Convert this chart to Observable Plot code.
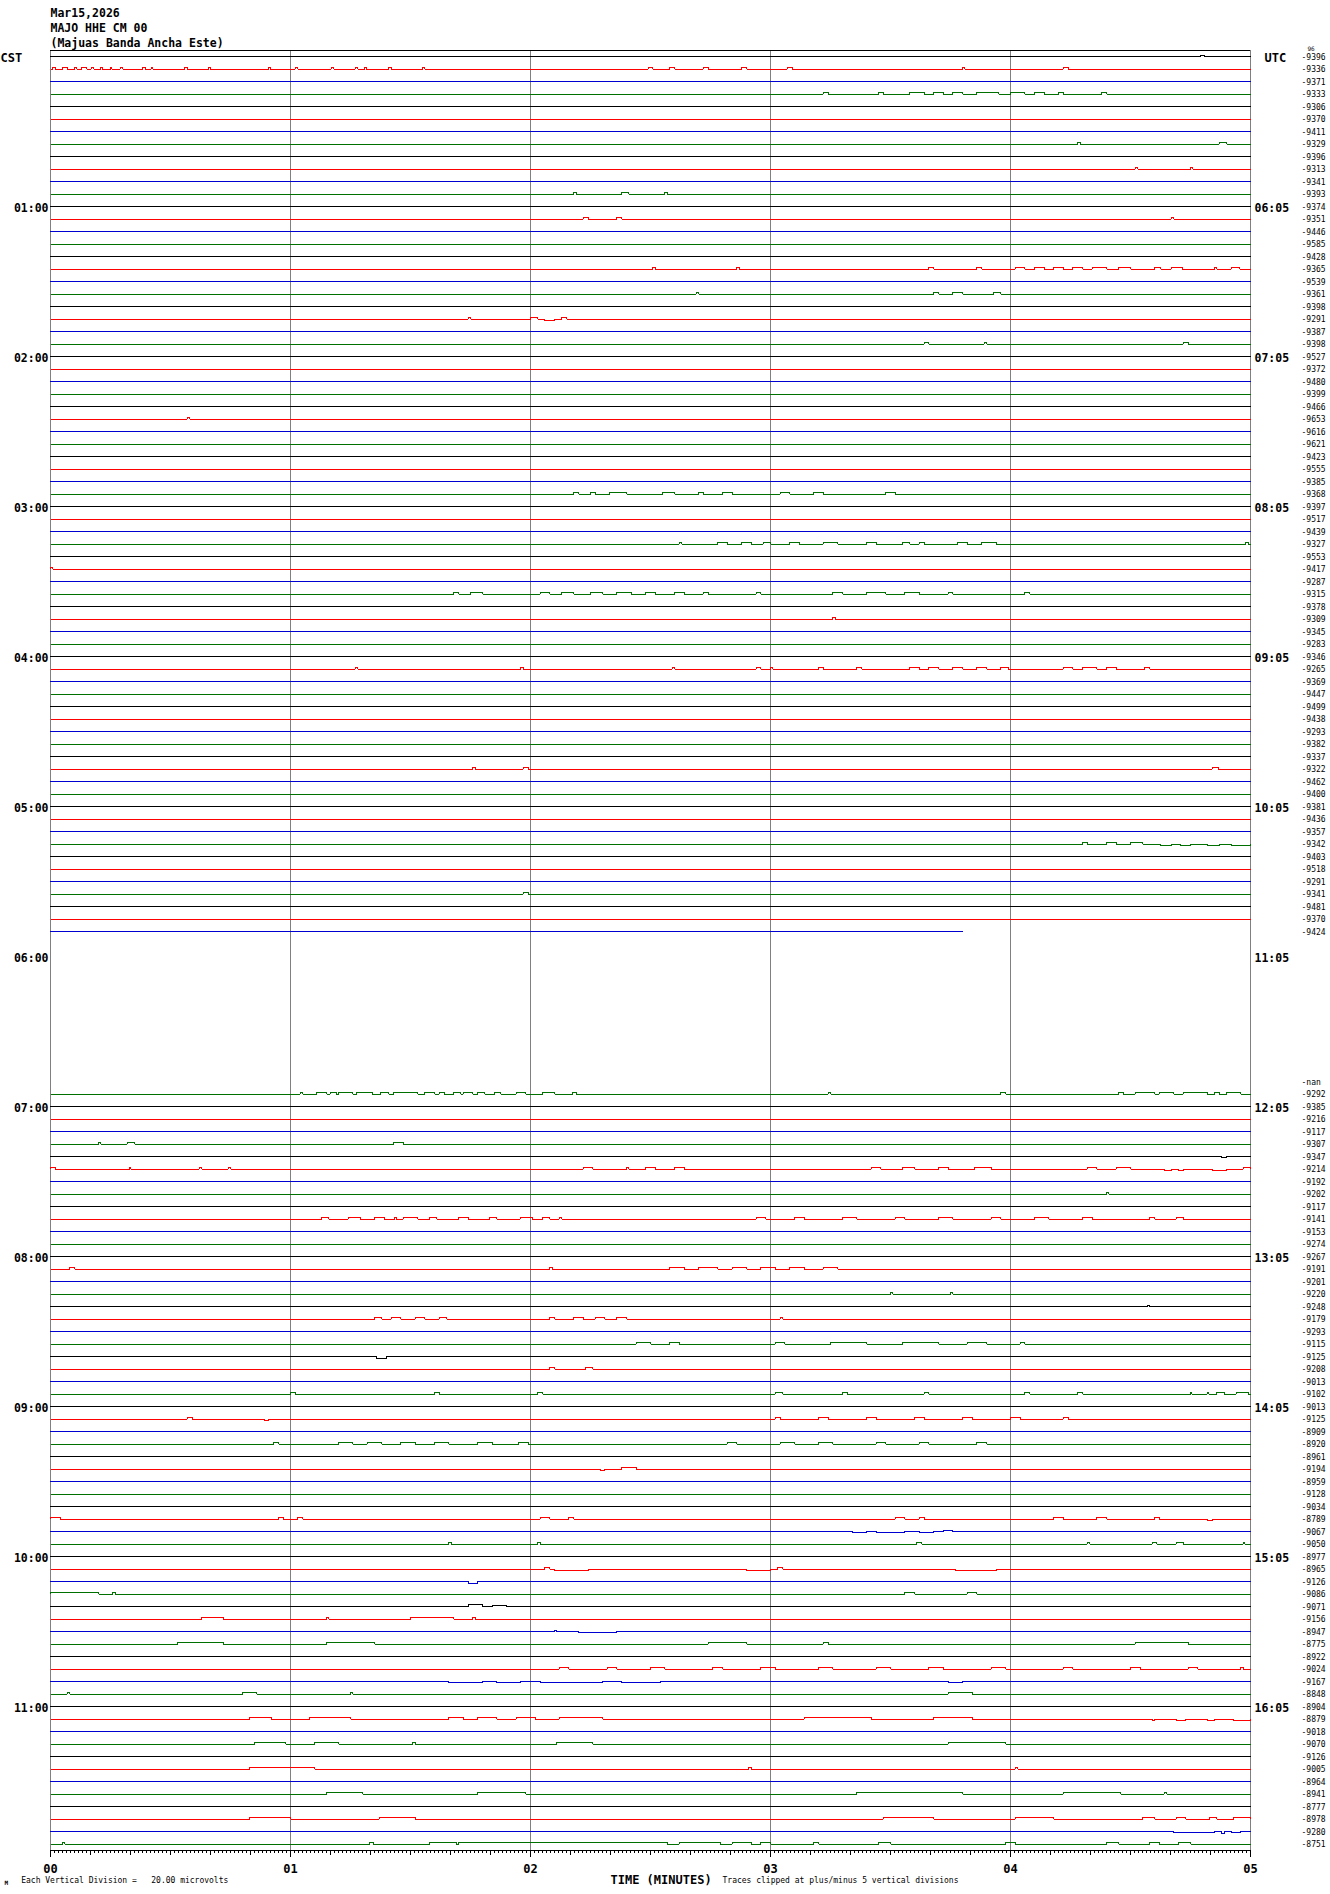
<!DOCTYPE html>
<html><head><meta charset="utf-8">
<script src="https://cdn.jsdelivr.net/npm/d3@7"></script>
<script src="https://cdn.jsdelivr.net/npm/@observablehq/plot@0.6"></script>
<style>
html,body{margin:0;padding:0;background:#fff;}
svg text{white-space:pre;}
</style></head><body><div id="chart"></div>
<script>
// ---------- DATA ----------
const titleLines = ["Mar15,2026", "MAJO HHE CM 00", "(Majuas Banda Ancha Este)"];
const cstHours = ["01:00","02:00","03:00","04:00","05:00","06:00","07:00","08:00","09:00","10:00","11:00"];
const utcHours = ["06:05","07:05","08:05","09:05","10:05","11:05","12:05","13:05","14:05","15:05","16:05"];
const minuteLabels = ["00","01","02","03","04","05"];
const traceColors = ["#000000", "#ff0000", "#0000d0", "#007000"];
// one 5-minute trace per row, value = trace mean (counts); null = no data, NaN = "-nan"
const traceMeans = [
-9396,-9336,-9371,-9333,-9306,-9370,-9411,-9329,-9396,-9313,-9341,-9393,
-9374,-9351,-9446,-9585,-9428,-9365,-9539,-9361,-9398,-9291,-9387,-9398,
-9527,-9372,-9480,-9399,-9466,-9653,-9616,-9621,-9423,-9555,-9385,-9368,
-9397,-9517,-9439,-9327,-9553,-9417,-9287,-9315,-9378,-9309,-9345,-9283,
-9346,-9265,-9369,-9447,-9499,-9438,-9293,-9382,-9337,-9322,-9462,-9400,
-9381,-9436,-9357,-9342,-9403,-9518,-9291,-9341,-9481,-9370,-9424,null,
null,null,null,null,null,null,null,null,null,null,NaN,-9292,
-9385,-9216,-9117,-9307,-9347,-9214,-9192,-9202,-9117,-9141,-9153,-9274,
-9267,-9191,-9201,-9220,-9248,-9179,-9293,-9115,-9125,-9208,-9013,-9102,
-9013,-9125,-8909,-8920,-8961,-9194,-8959,-9128,-9034,-8789,-9067,-9050,
-8977,-8965,-9126,-9086,-9071,-9156,-8947,-8775,-8922,-9024,-9167,-8848,
-8904,-8879,-9018,-9070,-9126,-9005,-8964,-8941,-8777,-8978,-9280,-8751
];
const traceEndMinute = {70: 3.80};
// [trace, start minute, end minute, deviation in microvolts]
const wiggleSegments = [
[0,4.79,4.81,2],
[1,0.01,0.02,2],[1,0.05,0.07,2],[1,0.10,0.11,2],[1,0.13,0.15,2],[1,0.17,0.18,2],[1,0.21,0.215,2],[1,0.25,0.255,2],[1,0.29,0.30,2],[1,0.385,0.395,2],[1,0.42,0.425,2],[1,0.56,0.57,2],[1,0.66,0.665,2],[1,0.91,0.915,2],[1,1.02,1.03,2],[1,1.17,1.18,2],[1,1.27,1.28,2],[1,1.31,1.315,2],[1,1.41,1.42,2],[1,1.55,1.56,2],[1,2.49,2.51,2],[1,2.58,2.60,2],[1,2.72,2.74,2],[1,2.88,2.90,2],[1,3.07,3.09,2],[1,3.80,3.81,2],[1,4.22,4.24,2],
[3,3.22,3.24,2],[3,3.45,3.47,2],[3,3.58,3.64,2],[3,3.68,3.72,2],[3,3.76,3.80,2],[3,3.86,3.95,2],[3,4.00,4.06,2],[3,4.10,4.14,2],[3,4.20,4.22,2],[3,4.38,4.40,2],
[7,4.28,4.29,2],[7,4.87,4.90,2],
[9,4.52,4.53,2],[9,4.75,4.76,2],
[11,2.18,2.19,2],[11,2.38,2.41,2],[11,2.56,2.57,2],
[13,2.22,2.24,2],[13,2.36,2.38,2],[13,4.67,4.68,2],
[17,2.51,2.52,2],[17,2.86,2.87,2],[17,3.66,3.68,2],[17,3.86,3.88,2],[17,4.02,4.06,2],[17,4.10,4.14,2],[17,4.18,4.22,2],[17,4.26,4.30,2],[17,4.34,4.40,2],[17,4.45,4.50,2],[17,4.60,4.625,2],[17,4.67,4.715,2],[17,4.85,4.86,2],[17,4.92,4.955,2],
[19,2.69,2.70,2],[19,3.68,3.70,2],[19,3.76,3.80,2],[19,3.93,3.96,2],
[21,1.74,1.75,2],[21,2.00,2.03,2],[21,2.06,2.10,-2],[21,2.13,2.15,2],
[23,3.64,3.66,2],[23,3.89,3.90,2],[23,4.72,4.74,2],
[29,0.57,0.58,2],
[35,2.18,2.20,2],[35,2.25,2.27,2],[35,2.33,2.40,2],[35,2.55,2.60,2],[35,2.70,2.72,2],[35,2.80,2.84,2],[35,3.04,3.08,2],[35,3.18,3.22,2],[35,3.48,3.52,2],
[39,2.62,2.63,2],[39,2.78,2.82,2],[39,2.88,2.92,2],[39,2.97,3.00,2],[39,3.08,3.12,2],[39,3.22,3.28,2],[39,3.40,3.44,2],[39,3.55,3.58,2],[39,3.62,3.64,2],[39,3.78,3.82,2],[39,3.88,3.94,2],[39,4.98,4.99,2],
[41,0.0,0.01,3],
[43,1.68,1.70,2],[43,1.75,1.80,2],[43,2.04,2.08,2],[43,2.13,2.18,2],[43,2.25,2.30,2],[43,2.36,2.42,2],[43,2.48,2.52,2],[43,2.60,2.64,2],[43,2.72,2.74,2],[43,2.94,2.96,2],[43,3.26,3.30,2],[43,3.40,3.48,2],[43,3.56,3.62,2],[43,3.74,3.76,2],[43,4.06,4.08,2],
[45,3.26,3.27,2],
[49,1.27,1.28,2],[49,1.96,1.97,2],[49,2.59,2.60,2],[49,2.94,2.96,2],[49,3.00,3.01,2],[49,3.20,3.22,2],[49,3.36,3.38,2],[49,3.58,3.62,2],[49,3.66,3.70,2],[49,3.76,3.80,2],[49,3.86,3.90,2],[49,3.96,3.99,2],[49,4.22,4.26,2],[49,4.30,4.36,2],[49,4.40,4.44,2],[49,4.56,4.58,2],
[57,1.76,1.77,2],[57,1.97,1.99,2],[57,4.84,4.865,2],
[63,4.30,4.32,2],[63,4.40,4.44,2],[63,4.50,4.55,2],[63,4.625,4.67,-2],[63,4.71,4.75,-2],[63,4.82,4.87,-2],[63,4.92,5.0,-2],
[67,1.97,1.99,2],
[83,1.04,1.05,2],[83,1.11,1.15,2],[83,1.165,1.19,2],[83,1.20,1.26,2],[83,1.275,1.34,2],[83,1.375,1.41,2],[83,1.43,1.53,2],[83,1.56,1.60,2],[83,1.62,1.64,2],[83,1.68,1.71,2],[83,1.72,1.76,2],[83,1.78,1.81,2],[83,1.85,1.875,2],[83,1.94,1.98,2],[83,2.05,2.10,2],[83,2.175,2.19,2],[83,3.24,3.25,2],[83,3.96,3.98,2],[83,4.45,4.47,2],[83,4.52,4.60,2],[83,4.62,4.68,2],[83,4.72,4.82,2],[83,4.85,4.87,2],[83,4.90,4.96,2],
[87,0.20,0.21,2],[87,0.32,0.35,2],[87,1.43,1.47,2],
[88,4.88,4.90,-2],
[89,0.0,0.02,2],[89,0.33,0.335,2],[89,0.62,0.63,2],[89,0.74,0.75,2],[89,2.22,2.26,2],[89,2.40,2.41,2],[89,2.48,2.52,2],[89,2.60,2.64,2],[89,3.42,3.46,2],[89,3.55,3.60,2],[89,3.70,3.74,2],[89,3.85,3.92,2],[89,4.32,4.36,2],[89,4.44,4.50,2],[89,4.64,4.67,-2],[89,4.70,4.72,-2],[89,4.84,4.90,-2],[89,4.97,5.0,2],
[91,4.40,4.41,2],
[93,1.13,1.16,2],[93,1.24,1.29,2],[93,1.35,1.39,2],[93,1.435,1.44,3],[93,1.47,1.53,2],[93,1.58,1.61,2],[93,1.70,1.74,2],[93,1.83,1.86,2],[93,1.957,2.008,2],[93,2.05,2.08,2],[93,2.12,2.13,2],[93,2.94,2.98,2],[93,3.10,3.14,2],[93,3.30,3.36,2],[93,3.52,3.56,2],[93,3.70,3.76,2],[93,3.92,3.96,2],[93,4.10,4.16,2],[93,4.30,4.34,2],[93,4.58,4.60,2],[93,4.69,4.72,2],
[97,0.08,0.10,2],[97,2.08,2.09,2],[97,2.58,2.64,2],[97,2.70,2.78,2],[97,2.84,2.90,2],[97,2.96,3.02,2],[97,3.08,3.14,2],[97,3.22,3.28,2],
[99,3.50,3.51,2],[99,3.75,3.76,2],
[100,4.57,4.58,2],
[101,1.35,1.38,2],[101,1.42,1.46,2],[101,1.52,1.56,2],[101,1.62,1.65,2],[101,2.08,2.10,2],[101,2.18,2.22,2],[101,2.27,2.31,2],[101,2.36,2.40,2],[101,3.04,3.05,2],
[103,2.44,2.50,2],[103,2.58,2.62,2],[103,3.02,3.06,2],[103,3.25,3.40,2],[103,3.55,3.70,2],[103,3.82,3.90,2],[103,4.04,4.06,2],
[104,1.36,1.40,-3],
[105,2.08,2.10,2],[105,2.23,2.26,2],
[107,1.00,1.02,2],[107,1.60,1.62,2],[107,2.03,2.05,2],[107,3.02,3.05,2],[107,3.30,3.32,2],[107,3.64,3.66,2],[107,4.06,4.08,2],[107,4.28,4.30,2],[107,4.75,4.755,2],[107,4.82,4.825,2],[107,4.86,4.89,2],[107,4.94,4.99,2],
[109,0.57,0.59,2],[109,0.89,0.91,-2],[109,3.02,3.04,2],[109,3.20,3.24,2],[109,3.40,3.44,2],[109,3.60,3.64,2],[109,3.80,3.84,2],[109,4.00,4.04,2],[109,4.22,4.24,2],
[111,0.93,0.95,2],[111,1.20,1.26,2],[111,1.32,1.38,2],[111,1.46,1.52,2],[111,1.60,1.66,2],[111,1.78,1.84,2],[111,1.95,1.99,2],[111,2.82,2.86,2],[111,3.04,3.10,2],[111,3.20,3.26,2],[111,3.44,3.48,2],[111,3.62,3.66,2],[111,3.86,3.90,2],
[113,2.29,2.31,-2],[113,2.38,2.44,2],
[117,0.0,0.04,2],[117,0.95,0.97,2],[117,1.03,1.05,2],[117,2.04,2.08,2],[117,2.16,2.18,2],[117,3.52,3.56,2],[117,3.62,3.64,2],[117,4.18,4.22,2],[117,4.36,4.40,2],[117,4.60,4.62,2],[117,4.82,4.84,-2],
[118,3.34,3.40,-2],[118,3.44,3.56,-2],[118,3.62,3.68,-2],[118,3.72,3.76,2],
[119,1.66,1.67,2],[119,2.03,2.04,2],[119,3.61,3.63,2],[119,4.32,4.33,2],[119,4.59,4.61,2],[119,4.69,4.72,2],[119,4.97,4.975,2],
[121,2.06,2.08,2],[121,2.10,2.24,-2],[121,2.90,3.00,-2],[121,3.03,3.05,2],[121,3.77,3.94,-2],
[122,1.74,1.78,-3],
[123,0.0,0.20,2],[123,0.26,0.27,2],[123,3.56,3.60,2],[123,3.82,3.86,2],
[124,1.74,1.80,3],[124,1.84,1.90,2],
[125,0.63,0.72,2],[125,1.15,1.16,2],[125,1.50,1.68,2],[125,1.76,1.77,2],
[126,2.10,2.11,2],[126,2.20,2.36,-2],
[127,0.53,0.72,2],[127,1.15,1.35,2],[127,2.74,2.90,2],[127,3.22,3.24,2],[127,4.52,4.74,2],
[129,2.12,2.16,2],[129,2.32,2.36,2],[129,2.50,2.56,2],[129,2.76,2.80,2],[129,2.96,3.02,2],[129,3.20,3.26,2],[129,3.44,3.50,2],[129,3.66,3.72,2],[129,3.92,3.98,2],[129,4.22,4.26,2],[129,4.50,4.54,2],[129,4.74,4.78,2],[129,4.96,4.97,3],
[130,1.66,1.80,-2],[130,1.86,1.96,-2],[130,2.04,2.30,-2],[130,2.38,2.54,-2],[130,3.74,3.80,-2],
[131,0.07,0.08,2],[131,0.80,0.86,2],[131,1.25,1.26,2],[131,3.74,3.84,2],
[133,0.83,0.92,2],[133,1.08,1.25,2],[133,1.66,1.72,2],[133,1.78,1.86,2],[133,1.94,2.02,2],[133,2.12,2.30,2],[133,3.14,3.42,2],[133,3.68,3.84,2],[133,4.59,4.60,-2],[133,4.69,4.73,-2],[133,4.82,4.85,-2],[133,4.93,5.0,-2],
[135,0.85,0.98,2],[135,1.10,1.20,2],[135,1.51,1.52,2],[135,2.11,2.26,2],[135,3.74,3.98,2],
[137,0.83,1.10,2],[137,2.91,2.92,2],[137,4.02,4.03,2],
[139,1.15,1.30,2],[139,1.78,1.98,2],[139,3.36,3.80,2],[139,4.22,4.46,2],[139,4.64,4.65,3],
[141,0.83,1.00,2],[141,1.37,1.52,2],[141,3.47,3.68,2],[141,4.02,4.18,2],[141,4.55,4.60,2],[141,4.69,4.73,2],[141,4.83,4.86,2],[141,4.93,5.0,2],
[142,4.68,4.85,-2],[142,4.88,4.89,-3],[142,4.92,4.96,-2],
[143,0.05,0.06,2],[143,1.33,1.345,2],[143,1.58,1.69,2],[143,1.70,2.57,2],[143,2.62,2.79,2],[143,2.84,2.92,2],[143,2.96,3.00,2],[143,3.18,3.20,2],[143,3.45,3.50,2],[143,3.98,4.02,2],[143,4.40,4.45,2],[143,4.58,4.62,2],[143,4.70,4.75,2]
];
const microvoltsPerDivision = 20;

// ---------- BUILD ----------
const FONT = "'DejaVu Sans Mono', 'Liberation Mono', monospace";
const points = [];
traceMeans.forEach((m, i) => {
  if (m === null || Number.isNaN(m)) return;
  const end = traceEndMinute[i] ?? 5;
  const segs = wiggleSegments.filter(s => s[0] === i).sort((a, b) => a[1] - b[1]);
  const color = traceColors[i % 4];
  points.push({i, t: 0, v: 0, color});
  for (const [, s, e, dv] of segs) {
    if (s >= end) continue;
    points.push({i, t: s, v: dv, color});
    points.push({i, t: Math.min(e, end), v: 0, color});
  }
  points.push({i, t: end, v: 0, color});
});
const meanLabels = traceMeans.map((m, i) => ({i, m})).filter(d => d.m !== null);
const hourRows = cstHours.map((c, k) => ({i: (k + 1) * 12, cst: c, utc: utcHours[k]}));
const minuteTicks = minuteLabels.map(Number);
const secondTicks = d3.range(0, 301).map(s => s / 60);
const tenSecondTicks = d3.range(0, 301, 10).map(s => s / 60);

const chart = Plot.plot({
  width: 1330, height: 1894,
  marginLeft: 50, marginRight: 80, marginTop: 50, marginBottom: 44,
  style: {fontFamily: FONT, background: "white", color: "black"},
  x: {domain: [0, 5], label: null},
  y: {domain: [143.52, -0.48], axis: null, label: null},
  color: {type: "identity"},
  marks: [
    Plot.ruleX(minuteTicks, {stroke: "#808080", strokeWidth: 1, shapeRendering: "crispEdges"}),
    Plot.ruleY([-0.48], {stroke: "black", strokeWidth: 1, shapeRendering: "crispEdges"}),
    Plot.line(points, {
      x: "t", y: d => d.i - d.v / microvoltsPerDivision, z: "i", stroke: "color",
      curve: "step-after", strokeWidth: 1, shapeRendering: "crispEdges"
    }),
    Plot.ruleY([143.52], {stroke: "black", strokeWidth: 1, shapeRendering: "crispEdges"}),
    Plot.axisX({ticks: secondTicks, tickSize: 3, tickFormat: () => "", label: null, stroke: "black", shapeRendering: "crispEdges"}),
    Plot.axisX({ticks: tenSecondTicks, tickSize: 5, tickFormat: () => "", label: null, stroke: "black", shapeRendering: "crispEdges"}),
    Plot.axisX({ticks: minuteTicks, tickSize: 7, tickFormat: () => "", label: null, stroke: "black", shapeRendering: "crispEdges"}),
    Plot.text(minuteTicks, {x: d => d, text: (d, k) => minuteLabels[k], frameAnchor: "bottom", lineAnchor: "top", dy: 13.5, fontSize: 12, fontWeight: "bold", fill: "black"}),
    // hour labels
    Plot.text(hourRows, {x: 0, y: "i", text: "cst", textAnchor: "end", dx: -2, dy: 1.5, lineAnchor: "middle", fontSize: 11.5, fontWeight: "bold", fill: "black"}),
    Plot.text(hourRows, {x: 5, y: "i", text: "utc", textAnchor: "start", dx: 4, dy: 1.5, lineAnchor: "middle", fontSize: 11.5, fontWeight: "bold", fill: "black"}),
    // trace means
    Plot.text(meanLabels, {x: 5, y: "i", text: d => Number.isNaN(d.m) ? "-nan" : String(d.m), textAnchor: "start", dx: 51, dy: 0.5, lineAnchor: "middle", fontSize: 8, fill: "black"}),
    Plot.text(["96"], {frameAnchor: "top-right", text: d => d, textAnchor: "start", dx: 57, dy: -1.5, lineAnchor: "middle", fontSize: 6, fill: "black"}),
    // title block
    Plot.text([titleLines.join("\n")], {frameAnchor: "top-left", text: d => d, textAnchor: "start", lineAnchor: "top", dy: -44, lineHeight: 1.3, fontSize: 11.5, fontWeight: "bold", fill: "black"}),
    Plot.text(["CST"], {frameAnchor: "top-left", text: d => d, textAnchor: "start", lineAnchor: "top", dx: -50, dy: 2.5, fontSize: 12, fontWeight: "bold", fill: "black"}),
    Plot.text(["UTC"], {frameAnchor: "top-right", text: d => d, textAnchor: "start", lineAnchor: "top", dx: 14, dy: 2.5, fontSize: 12, fontWeight: "bold", fill: "black"}),
    // footer
    Plot.text(["M"], {frameAnchor: "bottom-left", text: d => d, textAnchor: "start", lineAnchor: "top", dx: -46, dy: 30, fontSize: 6, fontWeight: "bold", fill: "black"}),
    Plot.text(["Each Vertical Division =   20.00 microvolts"], {frameAnchor: "bottom-left", text: d => d, textAnchor: "start", lineAnchor: "top", dx: -29.3, dy: 27.3, fontSize: 8, fill: "black"}),
    Plot.text(["TIME (MINUTES)"], {frameAnchor: "bottom-left", text: d => d, textAnchor: "start", lineAnchor: "top", dx: 560, dy: 24.5, fontSize: 12, fontWeight: "bold", fill: "black"}),
    Plot.text(["Traces clipped at plus/minus 5 vertical divisions"], {frameAnchor: "bottom-left", text: d => d, textAnchor: "start", lineAnchor: "top", dx: 672, dy: 27.3, fontSize: 8, fill: "black"})
  ]
});
document.getElementById("chart").appendChild(chart);
</script>
</body></html>
